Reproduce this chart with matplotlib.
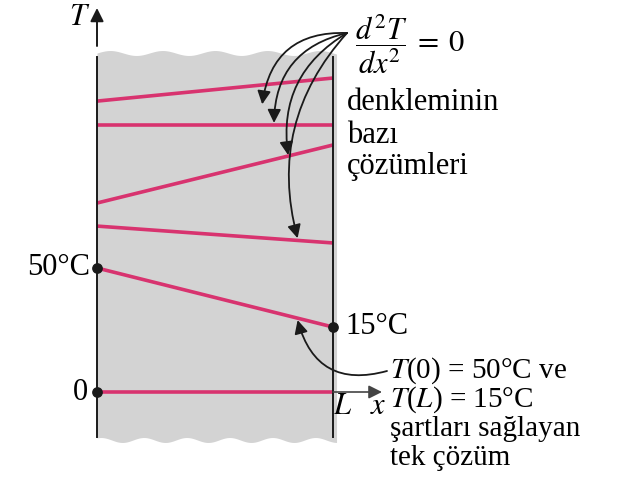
import numpy as np
import matplotlib
matplotlib.use("Agg")
import matplotlib.pyplot as plt

# wall spans x = 0 .. L (L = 1); heights in diagram units (schematic)
x_ends = [0.0, 1.0]
sol_left = [117.3, 107.7, 76.2, 66.9, 50.0, 0.0]
sol_right = [126.6, 107.7, 99.6, 60.1, 26.2, 0.0]
bc_x = [0.0, 0.0, 1.0]
bc_T = [0.0, 50.0, 26.2]
arrow_tips = [(0.70, 116.0), (0.75, 108.5), (0.81, 95.5), (0.85, 62.0)]
unique_tip = (0.85, 29.0)

PINK = "#d8336f"
GRAY = "#d3d3d3"
INK = "#1a1a1a"

plt.rcParams["font.family"] = ["Liberation Serif", "DejaVu Serif"]
plt.rcParams["mathtext.fontset"] = "stix"

# pixel -> data helpers for placing labels
def X(px): return (px - 97) / 236
def Y(py): return (392 - py) / 2.48

fig = plt.figure(figsize=(6.25, 4.82), dpi=100)
ax = fig.add_axes([0, 0, 1, 1])
ax.set_xlim(X(0), X(625))
ax.set_ylim(Y(482), Y(0))
ax.axis("off")

# gray slab with wavy top/bottom edges
xs = np.linspace(0, 1.015, 200)
top = Y(53) + 1.0 * np.sin(xs * 2 * np.pi * 4.5)
bot = Y(440) + 1.0 * np.sin(xs * 2 * np.pi * 5.5 + 1.0)
ax.fill_between(xs, bot, top, color=GRAY, lw=0, zorder=1)

# walls
for xw in x_ends:
    ax.plot([xw, xw], [Y(437), Y(57)], color=INK, lw=1.4, zorder=3)

# T axis arrow and x axis arrow
ax.annotate("", xy=(0, Y(8)), xytext=(0, Y(46)),
            arrowprops=dict(arrowstyle="-|>", color=INK, lw=1.4,
                            mutation_scale=20, shrinkA=0, shrinkB=0))
ax.annotate("", xy=(X(382), 0), xytext=(1.0, 0),
            arrowprops=dict(arrowstyle="-|>", color="#444444", lw=1.2,
                            mutation_scale=20, shrinkA=0, shrinkB=0))

# solutions
for l, r in zip(sol_left, sol_right):
    ax.plot(x_ends, [l, r], color=PINK, lw=2.6, zorder=2, solid_capstyle="butt")

ax.scatter(bc_x, bc_T, s=45, color=INK, zorder=4)

fs = 22
ax.text(X(80), Y(18), "$T$", fontsize=fs, ha="center", va="center")
ax.text(X(90), Y(268), "50°C", fontsize=fs, ha="right", va="center")
ax.text(X(88), Y(393), "0", fontsize=fs, ha="right", va="center")
ax.text(X(345), Y(326), "15°C", fontsize=fs, ha="left", va="center")
ax.text(X(343), Y(407), "$L$", fontsize=fs, ha="center", va="center")
ax.text(X(378), Y(406), "$x$", fontsize=fs, ha="center", va="center")

ax.text(X(355), Y(44), r"$\dfrac{d^2T}{dx^2}\;=\;0$", fontsize=fs,
        ha="left", va="center")
for txt, py in [("denkleminin", 103), ("bazı", 136), ("çözümleri", 167)]:
    ax.text(X(347), Y(py), txt, fontsize=fs, ha="left", va="center")

for txt, py in [("$T$(0) = 50°C ve", 371), ("$T$($L$) = 15°C", 400),
                ("şartları sağlayan", 429), ("tek çözüm", 458)]:
    ax.text(X(390), Y(py), txt, fontsize=fs - 1, ha="left", va="center")

src = (X(347), Y(33))
for i, tip in enumerate(arrow_tips):
    ax.annotate("", xy=tip, xytext=src,
                arrowprops=dict(arrowstyle="-|>", color=INK, lw=1.3,
                                mutation_scale=20, shrinkA=0, shrinkB=0,
                                connectionstyle=f"arc3,rad={0.45 - 0.06 * i}"),
                zorder=5)
ax.annotate("", xy=unique_tip, xytext=(X(387), Y(371)),
            arrowprops=dict(arrowstyle="-|>", color=INK, lw=1.3,
                            mutation_scale=20, shrinkA=0, shrinkB=0,
                            connectionstyle="arc3,rad=-0.5"),
            zorder=5)

fig.savefig("out.png", dpi=100)
